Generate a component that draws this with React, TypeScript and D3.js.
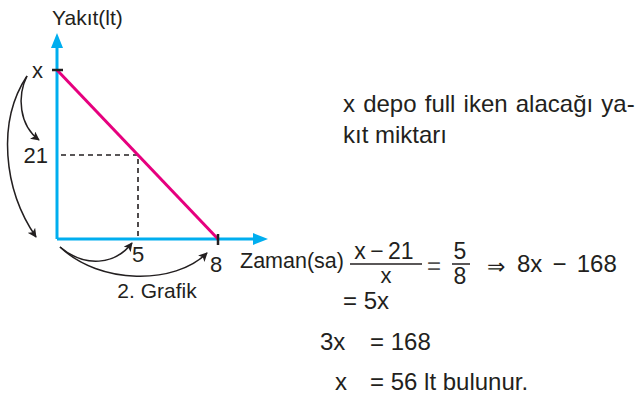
import React from 'react';
import * as d3 from 'd3';

// values (the drawing is not to scale, so the scales are piecewise)
const timeTicks = [5, 8];
const timeLabels = ['5', '8'];
const fuelTicks = [21, 56];
const fuelLabels = ['21', 'x'];
const fuelLine = [
  { t: 0, f: 56 },
  { t: 8, f: 0 },
];
const readT = 5;
const readF = 21;

const noteLines = ['x depo full iken alacağı ya-', 'kıt miktarı'];

const W = 638;
const H = 396;
const INK = '#231f20';
const AXIS = '#00aeef';
const PINK = '#e6007e';
const FONT = '"Liberation Sans", Arial, Helvetica, sans-serif';

const App = () => {
  const x = d3.scaleLinear().domain([0, 5, 8]).range([57, 138, 218]);
  const y = d3.scaleLinear().domain([0, 21, 56]).range([239, 155, 70]);

  const x0 = x(0);
  const y0 = y(0);
  const xEnd = 268;
  const yEnd = 33;

  const line = d3
    .line<{ t: number; f: number }>()
    .x(d => x(d.t))
    .y(d => y(d.f));

  // curved hint arrows, anchored on the axes
  const top = { px: x0 - 30, py: y(56) + 6 };
  const c1 = d3.path();
  c1.moveTo(top.px, top.py);
  c1.bezierCurveTo(top.px - 10, top.py + 20, top.px - 8, y(21) - 30, top.px + 12, y(21) - 15);
  const c2 = d3.path();
  c2.moveTo(top.px, top.py);
  c2.bezierCurveTo(top.px - 30, top.py + 45, top.px - 24, y0 - 50, top.px + 9, y0 - 2);
  const bx = x0 + 3;
  const by = y0 + 8;
  const c3 = d3.path();
  c3.moveTo(bx, by);
  c3.bezierCurveTo(bx + 25, by + 21, bx + 55, by + 18, x(5) - 6, y0 + 4);
  const c4 = d3.path();
  c4.moveTo(bx, by);
  c4.bezierCurveTo(bx + 40, by + 38, bx + 115, by + 38, x(8) - 11, y0 + 14);

  return (
    <svg
      width={W}
      height={H}
      style={{ position: 'absolute', left: 0, top: 0, background: '#fff' }}
      fontFamily={FONT}
      fill={INK}
    >
      <defs>
        <marker
          id="head"
          viewBox="0 0 10 10"
          refX="9"
          refY="5"
          markerWidth="9"
          markerHeight="9"
          markerUnits="userSpaceOnUse"
          orient="auto"
        >
          <path d="M0,0 L10,5 L0,10 L2.5,5 Z" fill={INK} />
        </marker>
      </defs>

      {/* dashed read-off lines */}
      <path
        d={`M${x0 + 4},${y(readF)}H${x(readT)}V${y0}`}
        fill="none"
        stroke={INK}
        strokeWidth={1.6}
        strokeDasharray="5,4"
      />

      {/* axes */}
      <line x1={x0} y1={y0} x2={x0} y2={yEnd + 10} stroke={AXIS} strokeWidth={3} />
      <line x1={x0} y1={y0} x2={xEnd - 10} y2={y0} stroke={AXIS} strokeWidth={3} />
      <polygon points={`${x0},${yEnd} ${x0 - 6},${yEnd + 15} ${x0 + 6},${yEnd + 15}`} fill={AXIS} />
      <polygon points={`${xEnd},${y0} ${xEnd - 15},${y0 - 6} ${xEnd - 15},${y0 + 6}`} fill={AXIS} />

      {/* fuel line */}
      <path d={line(fuelLine) ?? ''} fill="none" stroke={PINK} strokeWidth={3} />

      {/* tick marks */}
      <line x1={x0 - 5} x2={x0 + 6} y1={y(56)} y2={y(56)} stroke={INK} strokeWidth={2.5} />
      <line x1={x(8)} x2={x(8)} y1={y0 - 5} y2={y0 + 6} stroke={INK} strokeWidth={2.5} />

      {/* axis labels */}
      <text x={52} y={25} fontSize={21}>Yakıt(lt)</text>
      <text x={240} y={268} fontSize={21.5}>Zaman(sa)</text>
      <text x={157} y={298} fontSize={21} textAnchor="middle">2. Grafik</text>

      {fuelTicks.map((v, i) => (
        <text key={v} x={v === 56 ? x0 - 14 : x0 - 9} y={y(v) + 8} fontSize={22} textAnchor="end">
          {fuelLabels[i]}
        </text>
      ))}
      {timeTicks.map((v, i) => (
        <text key={v} x={x(v) - (v === 5 ? 0 : 2)} y={v === 5 ? 262 : 272} fontSize={22} textAnchor="middle">
          {timeLabels[i]}
        </text>
      ))}

      {/* hint arrows */}
      {[c1, c2, c3, c4].map((p, i) => (
        <path key={i} d={p.toString()} fill="none" stroke={INK} strokeWidth={1.5} markerEnd="url(#head)" />
      ))}

      {/* note */}
      {noteLines.map((s, i) => (
        <text key={i} x={343} y={112 + i * 31} fontSize={24} wordSpacing={i === 0 ? 1.5 : 0}>
          {s}
        </text>
      ))}

      {/* working */}
      <g fontSize={24}>
        <text x={384} y={259} textAnchor="middle" fontSize={23} wordSpacing={-2}>x − 21</text>
        <line x1={350} x2={422} y1={264} y2={264} stroke={INK} strokeWidth={1.5} />
        <text x={386} y={282.5} textAnchor="middle" fontSize={22}>x</text>
        <text x={434} y={274} textAnchor="middle" fill="#555">=</text>
        <text x={460} y={259} textAnchor="middle" fontSize={23}>5</text>
        <line x1={452} x2={470} y1={264} y2={264} stroke={INK} strokeWidth={1.5} />
        <text x={460} y={284} textAnchor="middle" fontSize={23}>8</text>
        <text x={496} y={274} textAnchor="middle" fontSize={22}>⇒</text>
        <text x={517} y={272} wordSpacing={3.5}>8x − 168</text>
        <text x={343} y={309}>= 5x</text>
        <text x={320} y={350}>3x</text>
        <text x={370} y={350}>= 168</text>
        <text x={335} y={390}>x</text>
        <text x={370} y={390}>= 56 lt bulunur.</text>
      </g>
    </svg>
  );
};

export default App;
